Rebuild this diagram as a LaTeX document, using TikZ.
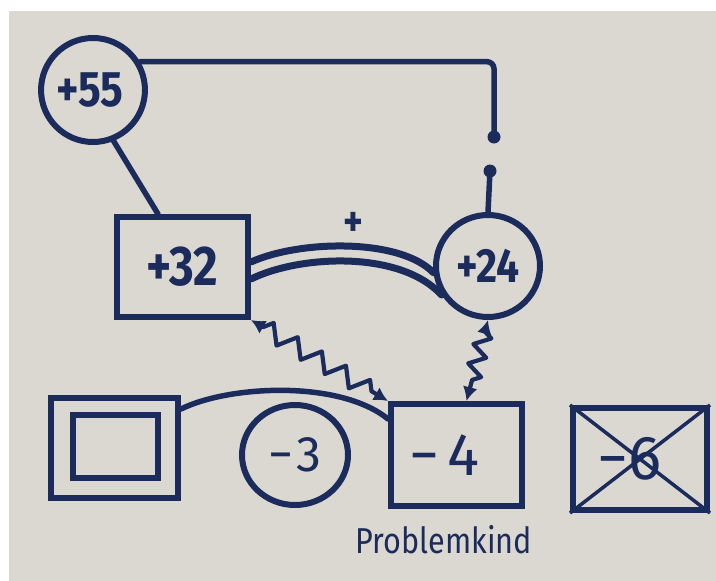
\documentclass[tikz,border=0pt]{standalone}
\usepackage{fontspec}
\usetikzlibrary{shapes.geometric,decorations.pathmorphing,arrows.meta,calc}
\newfontfamily\handb{Fira Sans}[FakeStretch=0.85]
\newfontfamily\handr{Fira Sans}
\definecolor{ink}{RGB}{27,44,92}
\definecolor{paper}{RGB}{218,216,208}
\begin{document}
\begin{tikzpicture}[x=1pt,y=-1pt,
  ell/.style={ellipse, draw=ink, line width=6pt, inner sep=0pt, text=ink},
  boxn/.style={rectangle, draw=ink, line width=6pt, inner sep=0pt, text=ink},
  conn/.style={draw=ink, line width=5.5pt, line cap=round},
  twin/.style={draw=ink, line width=7pt, line cap=round},
  dotn/.style={circle, fill=ink, inner sep=0pt, minimum size=13pt},
  zig/.style={draw=ink, line width=4.2pt, line join=round, decorate,
    {Latex[length=14pt,width=15pt]}-{Latex[length=14pt,width=15pt]}},
  lbl/.style={text=ink, inner sep=0pt}]
\useasboundingbox (0,0) rectangle (716,581);
\fill[white] (0,0) rectangle (716,581);
\fill[paper] (9,11) rectangle (716,581);

% nodes
\node[ell, minimum width=100pt, minimum height=104pt, font=\handb\bfseries\fontsize{50}{50}\selectfont] (n55) at (93,90) {+55\kern6pt};
\node[boxn, minimum width=131pt, minimum height=100pt, font=\handb\bfseries\fontsize{56}{56}\selectfont] (n32) at (182.5,267) {+32};
\node[ell, minimum width=104pt, minimum height=102pt, font=\handb\bfseries\fontsize{48}{48}\selectfont] (n24) at (488,266) {+24};
\node[boxn, minimum width=127pt, minimum height=100pt] (nbox) at (114.5,448) {};
\node[boxn, minimum width=85pt, minimum height=63pt] (nboxin) at (115.5,446.5) {};
\node[ell, minimum width=106pt, minimum height=100pt, font=\handr\fontsize{50}{50}\selectfont] (n3) at (295,455) {−\kern3pt3};
\node[boxn, minimum width=131pt, minimum height=102pt, font=\handr\fontsize{60}{60}\selectfont] (n4) at (456.5,455) {−\kern8pt4\kern24pt};
\node[boxn, minimum width=134pt, minimum height=102pt, font=\handr\fontsize{62}{62}\selectfont] (n6) at (640,459) {−6\kern20pt};
\node[dotn] (dA) at (494,137) {};
\node[dotn] (dB) at (490,171) {};
\node[lbl, font=\handb\bfseries\fontsize{44}{44}\selectfont] (lplus) at (353,224) {+};
\node[lbl, font=\handb\fontsize{36}{36}\selectfont] (lprob) at (444,540) {Problemkind};

% connectors
\draw[conn, rounded corners=7pt] (n55.31) -| (dA.center);
\draw[conn] (dB.center) -- (n24.north);
\draw[conn] (n55.-68) -- ([xshift=-24.5pt]n32.north);
\draw[twin] ($(n32.east)+(0,-5)$) .. controls (300,240) and (400,238) .. (n24.187);
\draw[twin] ($(n32.east)+(0,12)$) .. controls (300,255) and (400,250) .. (n24.212);
\draw[conn] ($(nbox.north east)+(0,14)$) .. controls (230,385) and (340,380) .. ($(n4.north west)+(0,18)$);
\draw[zig, decoration={zigzag, segment length=28pt, amplitude=9pt, pre length=14pt, post length=14pt}] (n32.south east) -- (n4.north west);
\draw[zig, decoration={zigzag, segment length=20pt, amplitude=8pt, pre length=12pt, post length=12pt}] (n24.south) -- ([xshift=10pt]n4.north);
\draw[draw=ink, line width=3.5pt] (n6.north west) -- (n6.south east);
\draw[draw=ink, line width=3.5pt] (n6.north east) -- (n6.south west);
\end{tikzpicture}
\end{document}
